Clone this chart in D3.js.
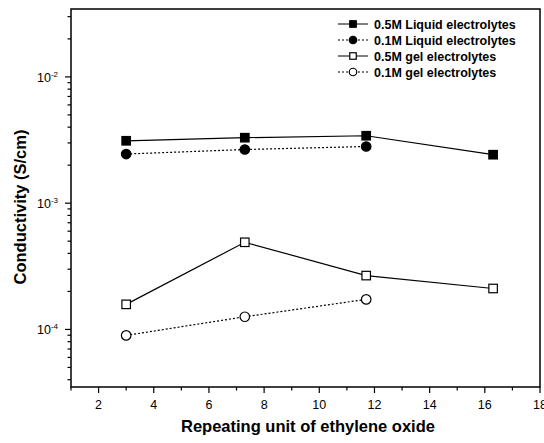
<!DOCTYPE html>
<html>
<head>
<meta charset="utf-8">
<script src="https://cdn.jsdelivr.net/npm/d3@7"></script>
<style>
  body { margin: 0; background: #fff; }
  text { font-family: "Liberation Sans", Arial, sans-serif; fill: #000; }
</style>
</head>
<body>
<svg id="chart"></svg>
<script>
// repeating units of ethylene oxide
const repeatUnits = [3, 7.3, 11.7, 16.3];

const liquid05 = [3.12e-3, 3.3e-3, 3.42e-3, 2.42e-3];
const liquid01 = [2.45e-3, 2.66e-3, 2.81e-3];
const gel05 = [1.58e-4, 4.9e-4, 2.67e-4, 2.11e-4];
const gel01 = [8.97e-5, 1.26e-4, 1.73e-4];

const seriesNames = [
    "0.5M Liquid electrolytes",
    "0.1M Liquid electrolytes",
    "0.5M gel electrolytes",
    "0.1M gel electrolytes"
];

const xTicks = [2, 4, 6, 8, 10, 12, 14, 16, 18];
const yTickExps = [-4, -3, -2];

var width = 544,
    height = 443,
    margin = {top: 9, right: 4, bottom: 56, left: 71};

var svg = d3.select("#chart")
    .attr("width", width)
    .attr("height", height);

var x = d3.scaleLinear()
    .domain([1, 18])
    .range([margin.left, width - margin.right]);

var y = d3.scaleLog()
    .domain([3.5e-5, 3.45e-2])
    .range([height - margin.bottom, margin.top]);

var series = [
    {name: seriesNames[0], values: liquid05, shape: "square", filled: true, dash: null},
    {name: seriesNames[1], values: liquid01, shape: "circle", filled: true, dash: "2,2"},
    {name: seriesNames[2], values: gel05, shape: "square", filled: false, dash: null},
    {name: seriesNames[3], values: gel01, shape: "circle", filled: false, dash: "2,2"}
];

// frame
svg.append("rect")
    .attr("x", x(1))
    .attr("y", y.range()[1])
    .attr("width", x(18) - x(1))
    .attr("height", y.range()[0] - y.range()[1])
    .attr("fill", "none")
    .attr("stroke", "#000")
    .attr("stroke-width", 1.5);

// x axis ticks
var xMinor = d3.range(1, 19, 1);
svg.append("g").selectAll("line")
    .data(xMinor)
    .join("line")
    .attr("x1", d => x(d)).attr("x2", d => x(d))
    .attr("y1", y.range()[0])
    .attr("y2", d => y.range()[0] + (d % 2 === 0 ? 6 : 3.5))
    .attr("stroke", "#000")
    .attr("stroke-width", 1.2);

svg.append("g").selectAll("text")
    .data(xTicks)
    .join("text")
    .attr("x", d => x(d))
    .attr("y", y.range()[0] + 22)
    .attr("text-anchor", "middle")
    .attr("font-size", "12.5px")
    .text(d => d);

// y axis ticks (log)
var yMinor = [];
[-5, -4, -3, -2].forEach(function (e) {
    for (var k = 1; k < 10; k++) {
        var v = k * Math.pow(10, e);
        if (v >= y.domain()[0] && v <= y.domain()[1]) yMinor.push({v: v, major: k === 1});
    }
});

svg.append("g").selectAll("line")
    .data(yMinor)
    .join("line")
    .attr("x1", x(1))
    .attr("x2", d => x(1) - (d.major ? 6 : 3.5))
    .attr("y1", d => y(d.v)).attr("y2", d => y(d.v))
    .attr("stroke", "#000")
    .attr("stroke-width", 1.2);

var yLabels = svg.append("g").selectAll("text")
    .data(yTickExps)
    .join("text")
    .attr("x", 37)
    .attr("y", d => y(Math.pow(10, d)) + 5)
    .attr("font-size", "12.5px");

yLabels.append("tspan").text("10");
yLabels.append("tspan")
    .attr("dy", -5)
    .attr("font-size", "8px")
    .text(d => d);

// axis titles
svg.append("text")
    .attr("x", 308)
    .attr("y", 432)
    .attr("text-anchor", "middle")
    .attr("font-size", "16.5px")
    .attr("font-weight", "bold")
    .text("Repeating unit of ethylene oxide");

svg.append("text")
    .attr("transform", "translate(26,207) rotate(-90)")
    .attr("text-anchor", "middle")
    .attr("font-size", "16.5px")
    .attr("font-weight", "bold")
    .text("Conductivity (S/cm)");

// lines + markers
var line = d3.line()
    .x((d, i) => x(repeatUnits[i]))
    .y(d => y(d));

const drawMarker = function (g, shape, filled, cx, cy, size) {
    if (shape === "square") {
        g.append("rect")
            .attr("x", cx - size / 2).attr("y", cy - size / 2)
            .attr("width", size).attr("height", size)
            .attr("fill", filled ? "#000" : "#fff")
            .attr("stroke", "#000")
            .attr("stroke-width", 1.2);
    } else {
        g.append("circle")
            .attr("cx", cx).attr("cy", cy)
            .attr("r", size / 2 + 0.5)
            .attr("fill", filled ? "#000" : "#fff")
            .attr("stroke", "#000")
            .attr("stroke-width", 1.2);
    }
};

series.forEach(function (s) {
    var g = svg.append("g");
    g.append("path")
        .datum(s.values)
        .attr("d", line)
        .attr("fill", "none")
        .attr("stroke", "#000")
        .attr("stroke-width", 1.2)
        .attr("stroke-dasharray", s.dash);
    s.values.forEach(function (v, i) {
        drawMarker(g, s.shape, s.filled, x(repeatUnits[i]), y(v), 8.5);
    });
});

// legend
var legend = svg.append("g");
series.forEach(function (s, i) {
    var ly = 24 + i * 16;
    legend.append("line")
        .attr("x1", 338).attr("x2", 368)
        .attr("y1", ly).attr("y2", ly)
        .attr("stroke", "#000")
        .attr("stroke-width", 1)
        .attr("stroke-dasharray", s.dash);
    drawMarker(legend, s.shape, s.filled, 353, ly, 6.5);
    legend.append("text")
        .attr("x", 374)
        .attr("y", ly + 4.5)
        .attr("font-size", "12.5px")
        .attr("font-weight", "bold")
        .text(s.name);
});
</script>
</body>
</html>
